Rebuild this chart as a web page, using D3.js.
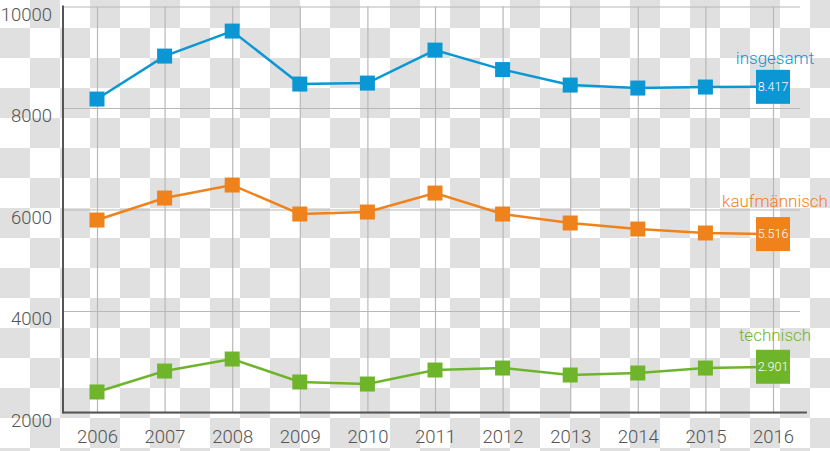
<!DOCTYPE html>
<html><head><meta charset="utf-8">
<script src="https://cdn.jsdelivr.net/npm/d3@7"></script>
<style>
html,body{margin:0;padding:0;background:#fff;}
svg{display:block;}
text{font-family:Roboto,"Open Sans",sans-serif;}
</style></head>
<body>
<script>
const years = [2006,2007,2008,2009,2010,2011,2012,2013,2014,2015,2016];
const insgesamt = [8176,9023,9516,8472,8491,9141,8757,8452,8393,8413,8417];
const kaufmaennisch = [5792,6226,6482,5911,5950,6324,5911,5734,5615,5537,5516];
const technisch = [2404,2817,3054,2601,2561,2837,2876,2739,2778,2876,2901];
const yTicks = [2000,4000,6000,8000,10000];
const seriesNames = ["insgesamt","kaufmännisch","technisch"];
const lastLabels = ["8.417","5.516","2.901"];
const colors = ["#0a97d4","#f0821c","#6fb52c"];

const W = 830, H = 451;
const svg = d3.select("body").append("svg").attr("width",W).attr("height",H);

// checkerboard background
const defs = svg.append("defs");
const pat = defs.append("pattern").attr("id","chk").attr("patternUnits","userSpaceOnUse")
  .attr("width",60).attr("height",60).attr("patternTransform","translate(0,-2)");
pat.append("rect").attr("width",60).attr("height",60).attr("fill","#ffffff");
pat.append("rect").attr("x",30).attr("y",0).attr("width",30).attr("height",30).attr("fill","#e0e0e0");
pat.append("rect").attr("x",0).attr("y",30).attr("width",30).attr("height",30).attr("fill","#e0e0e0");
svg.append("rect").attr("width",W).attr("height",H).attr("fill","url(#chk)");

const x = d3.scalePoint().domain(years).range([97,773]);
const y = d3.scaleLinear().domain([2000,10000]).range([412.5,6.5]);
const axisLeftX = 63, gridRight = 800, axisRight = 807;

// horizontal gridlines
const yg = svg.append("g").attr("transform",`translate(${axisLeftX},0)`)
  .call(d3.axisLeft(y).tickValues(yTicks).tickSize(-(gridRight-axisLeftX)).tickFormat(""));
yg.select(".domain").remove();
yg.selectAll(".tick line").attr("stroke","#b8b8b8").attr("stroke-width",1.2);

// vertical gridlines
const xg = svg.append("g").attr("transform",`translate(0,${y(2000)})`)
  .call(d3.axisBottom(x).tickSize(-(y(2000)-y(10000))).tickFormat(""));
xg.select(".domain").remove();
xg.selectAll(".tick line").attr("stroke","#b8b8b8").attr("stroke-width",1.2);

// y labels
const yl = svg.append("g").attr("transform",`translate(52,0)`)
  .call(d3.axisLeft(y).tickValues(yTicks).tickSize(0).tickPadding(0).tickFormat(d3.format("d")));
yl.select(".domain").remove();
yl.selectAll("text").attr("font-size",18.5).attr("font-weight",300).attr("fill","#555")
  .attr("dy","0.75em").attr("font-family","Roboto, sans-serif");

// x labels
const xl = svg.append("g").attr("transform",`translate(0,${y(2000)})`)
  .call(d3.axisBottom(x).tickSize(0).tickPadding(0).tickFormat(d3.format("d")));
xl.select(".domain").remove();
xl.selectAll("text").attr("font-size",18.5).attr("font-weight",300).attr("fill","#555")
  .attr("dy","1.65em").attr("font-family","Roboto, sans-serif");

// axis lines
svg.append("line").attr("x1",axisLeftX).attr("x2",axisLeftX).attr("y1",y(10000)-1).attr("y2",y(2000)+1)
  .attr("stroke","#555").attr("stroke-width",2);
svg.append("line").attr("x1",axisLeftX).attr("x2",axisRight).attr("y1",y(2000)).attr("y2",y(2000))
  .attr("stroke","#555").attr("stroke-width",2);

const allSeries = [insgesamt,kaufmaennisch,technisch];
const labelOffsets = [-23,-27,-26];
const line = d3.line().x((d,i)=>x(years[i])).y(d=>y(d));
allSeries.forEach((vals,si)=>{
  const c = colors[si];
  const g = svg.append("g");
  g.append("path").attr("d",line(vals)).attr("fill","none").attr("stroke",c).attr("stroke-width",2.5);
  const n = vals.length;
  g.selectAll("rect.m").data(vals.slice(0,n-1)).enter().append("rect")
    .attr("x",(d,i)=>x(years[i])-7.5).attr("y",d=>y(d)-7.5)
    .attr("width",15).attr("height",15).attr("fill",c);
  const lx = x(years[n-1]), ly = y(vals[n-1]);
  g.append("rect").attr("x",lx-17).attr("y",ly-17).attr("width",34).attr("height",34).attr("fill",c);
  g.append("text").attr("x",lx).attr("y",ly).attr("dy","0.35em").attr("text-anchor","middle")
    .attr("fill","#fff").attr("font-size",12.5).attr("font-weight",300).text(lastLabels[si]);
  g.append("text").attr("x",lx+2).attr("y",ly+labelOffsets[si]).attr("text-anchor","middle")
    .attr("fill",c).attr("font-size",17).attr("font-weight",300).text(seriesNames[si]);
});
</script>
</body></html>
